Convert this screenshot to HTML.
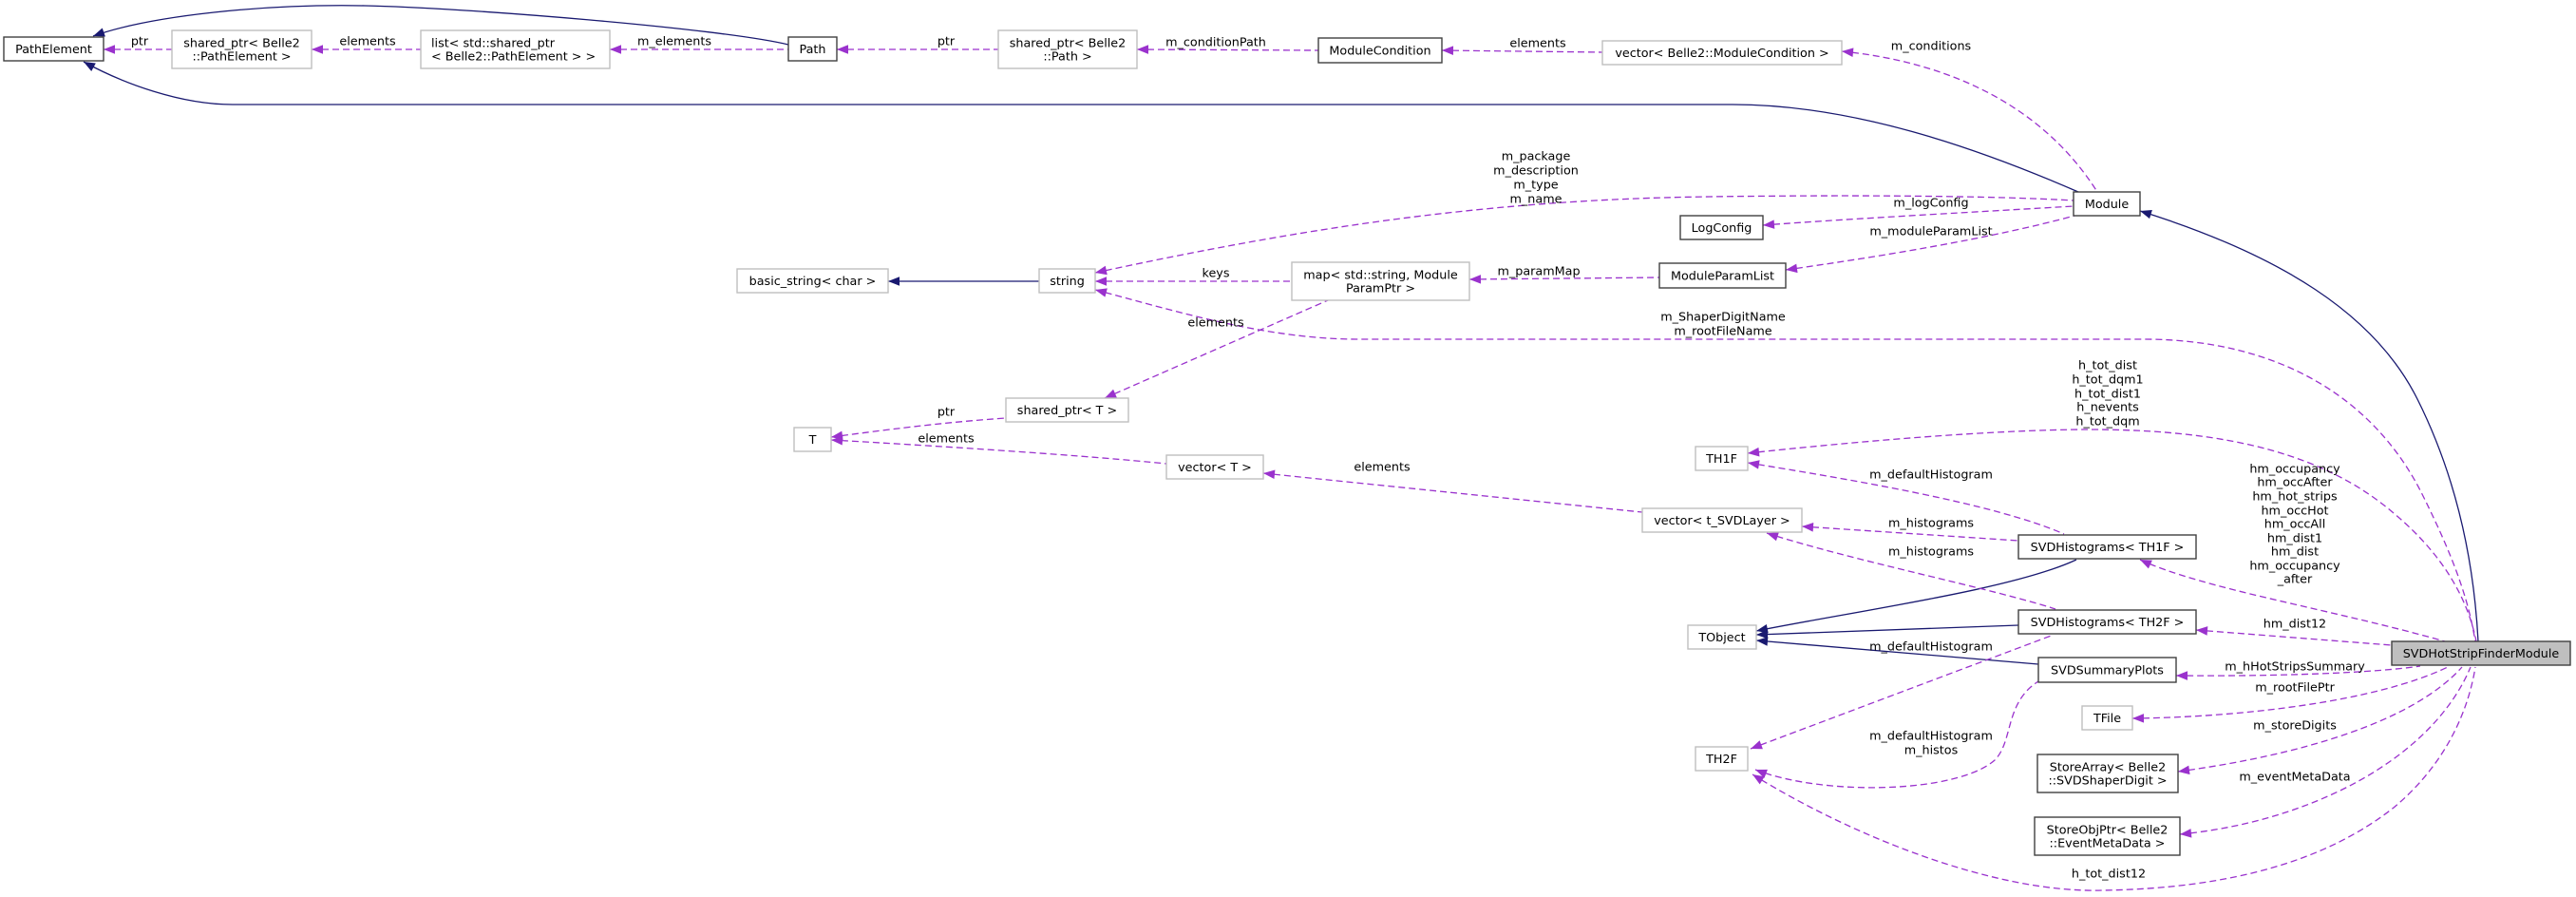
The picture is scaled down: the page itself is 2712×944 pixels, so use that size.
<!DOCTYPE html>
<html><head><meta charset="utf-8"><style>
html,body{margin:0;padding:0;background:#fff;}
svg{display:block;}
text{font-family:"DejaVu Sans","Liberation Sans",sans-serif;font-size:12.75px;fill:#000;}
.g{fill:#fff;stroke:#bfbfbf;stroke-width:1.4;}
.b{fill:#fff;stroke:#404040;stroke-width:1.4;}
.p{fill:none;stroke:#9a32cd;stroke-width:1.3;stroke-dasharray:7,4;}
.u{fill:none;stroke:#191970;stroke-width:1.3;}
</style></head><body>
<svg width="2712" height="944" viewBox="0 0 2712 944" xmlns="http://www.w3.org/2000/svg">
<defs>
<marker id="ap" viewBox="-1 -6 14 12" markerWidth="14" markerHeight="12" refX="0" refY="0" orient="auto" markerUnits="userSpaceOnUse"><path d="M0,0 L12,-4.8 L12,4.8 Z" fill="#9a32cd"/></marker>
<marker id="ab" viewBox="-1 -6 14 12" markerWidth="14" markerHeight="12" refX="0" refY="0" orient="auto" markerUnits="userSpaceOnUse"><path d="M0,0 L12,-4.8 L12,4.8 Z" fill="#191970"/></marker>
</defs>

<!-- blue inheritance edges -->
<path class="u" marker-start="url(#ab)" d="M98,38 C160,16 280,4 384,6 S760,30 830,47"/>
<path class="u" marker-start="url(#ab)" d="M88,65 C130,88 190,110 245,110 L1824,110 C1950,110 2080,155 2188,202"/>
<path class="u" marker-start="url(#ab)" d="M2253,222 C2400,268 2500,330 2545,420 C2590,510 2605,600 2609,675"/>
<path class="u" marker-start="url(#ab)" d="M935,296 L1094,296"/>
<path class="u" marker-start="url(#ab)" d="M1849,664 C1960,642 2120,620 2186,589"/>
<path class="u" marker-start="url(#ab)" d="M1849,668 L2125,658"/>
<path class="u" marker-start="url(#ab)" d="M1849,674 L2146,699"/>

<!-- purple dashed edges -->
<path class="p" marker-start="url(#ap)" d="M109,52 L181,52"/>
<path class="p" marker-start="url(#ap)" d="M328,52 L443,52"/>
<path class="p" marker-start="url(#ap)" d="M642,52 L830,52"/>
<path class="p" marker-start="url(#ap)" d="M881,52 L1051,52"/>
<path class="p" marker-start="url(#ap)" d="M1197,52 L1388,53"/>
<path class="p" marker-start="url(#ap)" d="M1518,53 L1687,55"/>
<path class="p" marker-start="url(#ap)" d="M1939,54 C2050,65 2150,110 2208,202"/>
<path class="p" marker-start="url(#ap)" d="M1153,287 C1350,245 1550,210 1800,207 C1950,205 2100,206 2183,211"/>
<path class="p" marker-start="url(#ap)" d="M1856,237 C1950,230 2100,222 2183,217"/>
<path class="p" marker-start="url(#ap)" d="M1880,284 C1980,270 2100,250 2184,227"/>
<path class="p" marker-start="url(#ap)" d="M1547,294 L1747,292"/>
<path class="p" marker-start="url(#ap)" d="M1153,296 L1360,296"/>
<path class="p" marker-start="url(#ap)" d="M1153,305 C1230,325 1330,357 1430,357 L2257,357 C2400,357 2500,420 2550,520 C2590,600 2600,640 2606,675"/>
<path class="p" marker-start="url(#ap)" d="M1163,419 L1398,316"/>
<path class="p" marker-start="url(#ap)" d="M875,460 C950,450 1000,444 1059,440"/>
<path class="p" marker-start="url(#ap)" d="M875,463 C1000,470 1150,480 1228,488"/>
<path class="p" marker-start="url(#ap)" d="M1330,498 L1729,539"/>
<path class="p" marker-start="url(#ap)" d="M1840,477 C1950,465 2100,452 2200,452 C2350,452 2450,480 2520,540 C2580,590 2600,640 2607,675"/>
<path class="p" marker-start="url(#ap)" d="M1840,487 C1950,505 2100,530 2173,562"/>
<path class="p" marker-start="url(#ap)" d="M1897,554 L2125,569"/>
<path class="p" marker-start="url(#ap)" d="M1860,561 C1950,590 2100,620 2164,641"/>
<path class="p" marker-start="url(#ap)" d="M1843,788 L2162,668"/>
<path class="p" marker-start="url(#ap)" d="M1848,810 C1920,838 2060,835 2100,800 C2120,780 2110,740 2146,717"/>
<path class="p" marker-start="url(#ap)" d="M1845,815 C1950,880 2100,940 2213,937 C2350,935 2450,905 2520,850 C2580,800 2600,740 2606,702"/>
<path class="p" marker-start="url(#ap)" d="M2253,589 C2320,620 2450,640 2574,675"/>
<path class="p" marker-start="url(#ap)" d="M2312,663 L2518,679"/>
<path class="p" marker-start="url(#ap)" d="M2291,711 C2400,712 2500,708 2548,701"/>
<path class="p" marker-start="url(#ap)" d="M2245,756 C2350,755 2500,740 2579,701"/>
<path class="p" marker-start="url(#ap)" d="M2293,812 C2420,795 2540,760 2592,702"/>
<path class="p" marker-start="url(#ap)" d="M2295,878 C2430,865 2560,800 2601,702"/>

<!-- nodes -->
<rect class="b" x="4" y="39" width="105" height="25"/>
<rect class="g" x="181" y="32" width="147" height="40"/>
<rect class="g" x="443" y="32" width="199" height="40"/>
<rect class="b" x="830" y="39" width="51" height="25"/>
<rect class="g" x="1051" y="32" width="146" height="40"/>
<rect class="b" x="1388" y="40" width="130" height="26"/>
<rect class="g" x="1687" y="43" width="252" height="25"/>
<rect class="b" x="2183" y="202" width="70" height="25"/>
<rect class="b" x="1769" y="227" width="87" height="25"/>
<rect class="b" x="1747" y="277" width="133" height="26"/>
<rect class="g" x="1360" y="276" width="187" height="40"/>
<rect class="g" x="776" y="283" width="159" height="25"/>
<rect class="g" x="1094" y="283" width="59" height="25"/>
<rect class="g" x="1059" y="419" width="129" height="25"/>
<rect class="g" x="836" y="450" width="39" height="25"/>
<rect class="g" x="1228" y="479" width="102" height="25"/>
<rect class="g" x="1785" y="470" width="55" height="25"/>
<rect class="g" x="1729" y="535" width="168" height="25"/>
<rect class="g" x="1777" y="658" width="72" height="25"/>
<rect class="g" x="1785" y="786" width="55" height="25"/>
<rect class="b" x="2125" y="563" width="187" height="25"/>
<rect class="b" x="2125" y="642" width="187" height="25"/>
<rect class="b" x="2146" y="692" width="145" height="26"/>
<rect class="g" x="2192" y="743" width="53" height="25"/>
<rect class="b" x="2145" y="794" width="148" height="40"/>
<rect class="b" x="2142" y="860" width="153" height="40"/>
<rect x="2518" y="675" width="188" height="25" fill="#bfbfbf" stroke="#404040" stroke-width="1.4"/>

<!-- node labels -->
<g text-anchor="middle">
<text x="56.5" y="56">PathElement</text>
<text x="254.5" y="49.5">shared_ptr&lt; Belle2</text>
<text x="254.5" y="63.5">::PathElement &gt;</text>
<text x="855.5" y="56">Path</text>
<text x="1124" y="49.5">shared_ptr&lt; Belle2</text>
<text x="1124" y="63.5">::Path &gt;</text>
<text x="1453" y="57.5">ModuleCondition</text>
<text x="1813" y="60">vector&lt; Belle2::ModuleCondition &gt;</text>
<text x="2218" y="219">Module</text>
<text x="1812.5" y="244">LogConfig</text>
<text x="1813.5" y="294.5">ModuleParamList</text>
<text x="1453.5" y="293.5">map&lt; std::string, Module</text>
<text x="1453.5" y="307.5">ParamPtr &gt;</text>
<text x="855.5" y="300">basic_string&lt; char &gt;</text>
<text x="1123.5" y="300">string</text>
<text x="1123.5" y="436">shared_ptr&lt; T &gt;</text>
<text x="855.5" y="467">T</text>
<text x="1279" y="496">vector&lt; T &gt;</text>
<text x="1812.5" y="487">TH1F</text>
<text x="1813" y="552">vector&lt; t_SVDLayer &gt;</text>
<text x="1813" y="675">TObject</text>
<text x="1812.5" y="803">TH2F</text>
<text x="2218.5" y="580">SVDHistograms&lt; TH1F &gt;</text>
<text x="2218.5" y="659">SVDHistograms&lt; TH2F &gt;</text>
<text x="2218.5" y="709.5">SVDSummaryPlots</text>
<text x="2218.5" y="760">TFile</text>
<text x="2219" y="811.5">StoreArray&lt; Belle2</text>
<text x="2219" y="825.5">::SVDShaperDigit &gt;</text>
<text x="2218.5" y="877.5">StoreObjPtr&lt; Belle2</text>
<text x="2218.5" y="891.5">::EventMetaData &gt;</text>
<text x="2612" y="692">SVDHotStripFinderModule</text>
</g>
<g text-anchor="start">
<text x="454" y="49.5">list&lt; std::shared_ptr</text>
<text x="454" y="63.5">&lt; Belle2::PathElement &gt; &gt;</text>
</g>

<!-- edge labels -->
<g text-anchor="middle">
<text x="147" y="47.5">ptr</text>
<text x="387" y="47.5">elements</text>
<text x="710" y="47.5">m_elements</text>
<text x="996" y="47.5">ptr</text>
<text x="1280" y="48.5">m_conditionPath</text>
<text x="1619" y="49.5">elements</text>
<text x="2033" y="52.5">m_conditions</text>
<text x="1617" y="168.5">m_package</text>
<text x="1617" y="183.5">m_description</text>
<text x="1617" y="198.5">m_type</text>
<text x="1617" y="213.5">m_name</text>
<text x="2033" y="217.5">m_logConfig</text>
<text x="2033" y="247.5">m_moduleParamList</text>
<text x="1620" y="289.5">m_paramMap</text>
<text x="1280" y="291.5">keys</text>
<text x="1814" y="337.5">m_ShaperDigitName</text>
<text x="1814" y="352.5">m_rootFileName</text>
<text x="1280" y="343.5">elements</text>
<text x="996" y="437.5">ptr</text>
<text x="996" y="465.5">elements</text>
<text x="1455" y="495.5">elements</text>
<text x="2219" y="388.5">h_tot_dist</text>
<text x="2219" y="403.5">h_tot_dqm1</text>
<text x="2219" y="418.5">h_tot_dist1</text>
<text x="2219" y="432.5">h_nevents</text>
<text x="2219" y="447.5">h_tot_dqm</text>
<text x="2033" y="503.5">m_defaultHistogram</text>
<text x="2033" y="554.5">m_histograms</text>
<text x="2033" y="584.5">m_histograms</text>
<text x="2033" y="684.5">m_defaultHistogram</text>
<text x="2033" y="778.5">m_defaultHistogram</text>
<text x="2033" y="793.5">m_histos</text>
<text x="2416" y="497.5">hm_occupancy</text>
<text x="2416" y="511.5">hm_occAfter</text>
<text x="2416" y="526.5">hm_hot_strips</text>
<text x="2416" y="541.5">hm_occHot</text>
<text x="2416" y="555.5">hm_occAll</text>
<text x="2416" y="570.5">hm_dist1</text>
<text x="2416" y="584.5">hm_dist</text>
<text x="2416" y="599.5">hm_occupancy</text>
<text x="2416" y="613.5">_after</text>
<text x="2416" y="660.5">hm_dist12</text>
<text x="2416" y="705.5">m_hHotStripsSummary</text>
<text x="2416" y="727.5">m_rootFilePtr</text>
<text x="2416" y="767.5">m_storeDigits</text>
<text x="2416" y="821.5">m_eventMetaData</text>
<text x="2220" y="923.5">h_tot_dist12</text>
</g>
</svg>
</body></html>
